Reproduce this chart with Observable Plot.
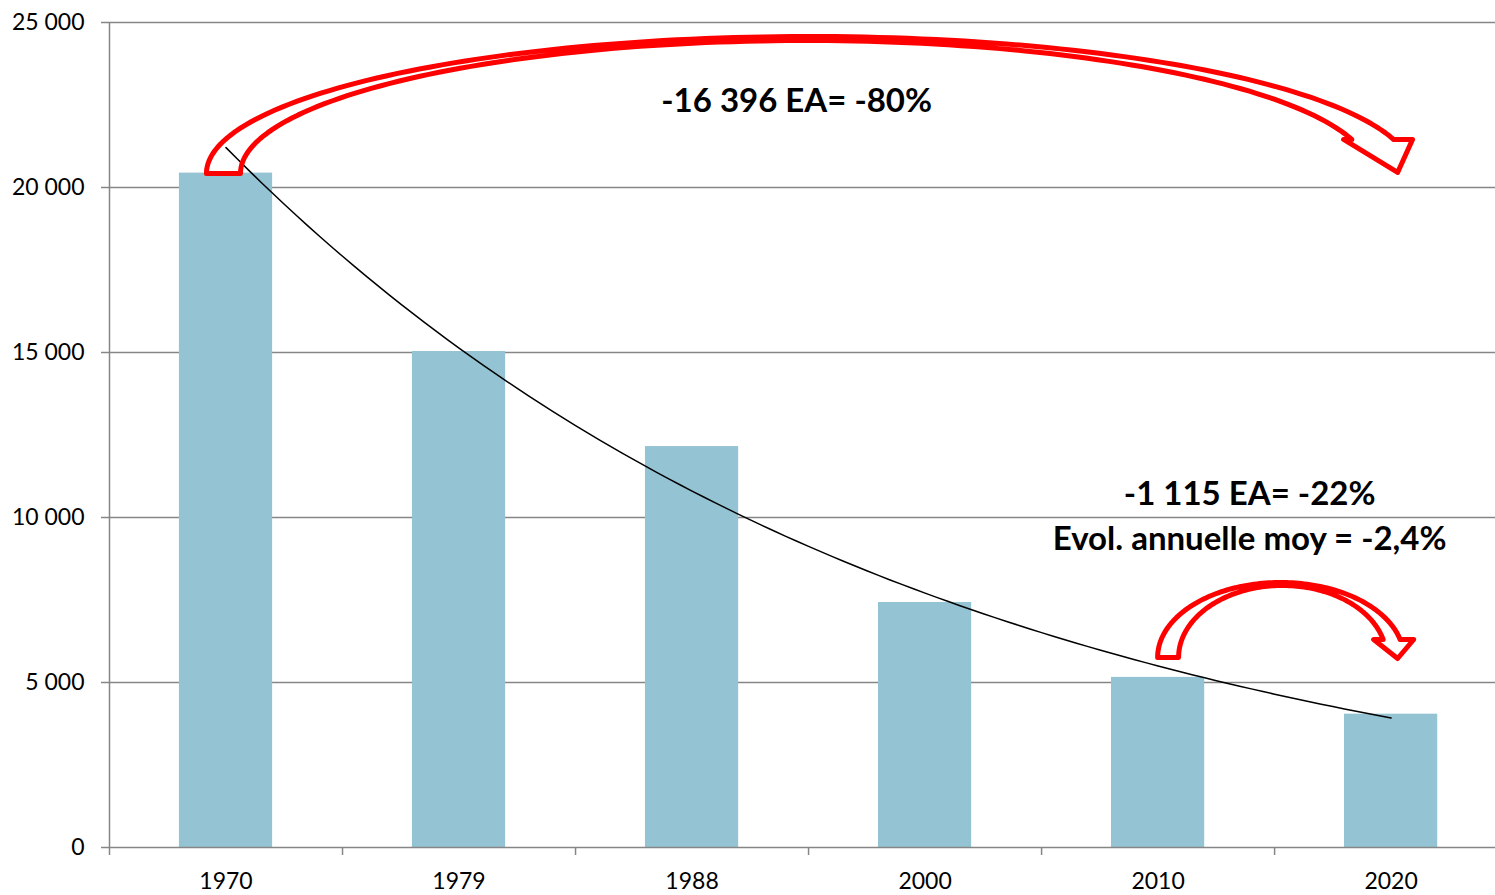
<!DOCTYPE html>
<html><head><meta charset="utf-8">
<script src="https://cdn.jsdelivr.net/npm/d3@7"></script>
<script src="https://cdn.jsdelivr.net/npm/@observablehq/plot@0.6"></script>
<style>html,body{margin:0;padding:0;background:#fff}svg{display:block}</style>
</head><body><div id="chart"></div>
<script>
// ---- data ----
const years = ["1970", "1979", "1988", "2000", "2010", "2020"];
const values = [20436, 15030, 12150, 7425, 5155, 4040];
const yTicks = [0, 5000, 10000, 15000, 20000, 25000];
const annotationLabels = ["-16 396 EA= -80%", "-1 115 EA= -22%", "Evol. annuelle moy = -2,4%"];

// ---- annotation geometry (data units: x = category index, y = value) ----
const annotationPos = [
  {x: 2.449, y: 22606},
  {x: 4.393, y: 10697},
  {x: 4.393, y: 9333}
];
const arrowBig = {base: 20424, cxO: 2.504, rxO: 2.588, ryO: 4152, cxI: 2.487, rxI: 2.425, ryI: 4030,
  headY: 21455, headLeft: 4.796, headRight: 5.092, tipX: 5.028, tipY: 20455};
const arrowSmall = {base: 5758, cxO: 4.526, rxO: 0.528, ryO: 2273, cxI: 4.534, rxI: 0.446, ryI: 2182,
  headY: 6303, headLeft: 4.925, headRight: 5.097, tipX: 5.028, tipY: 5727};

function arrowOutline(a, n = 120) {
  const pts = [];
  const tO = Math.asin((a.headY - a.base) / a.ryO);
  for (let k = 0; k <= n; k++) {
    const t = Math.PI - (Math.PI - tO) * k / n;
    pts.push({x: a.cxO + a.rxO * Math.cos(t), y: a.base + a.ryO * Math.sin(t)});
  }
  pts.push({x: a.headRight, y: a.headY});
  pts.push({x: a.tipX, y: a.tipY});
  pts.push({x: a.headLeft, y: a.headY});
  const tI = Math.asin((a.headY - a.base) / a.ryI);
  for (let k = 0; k <= n; k++) {
    const t = tI + (Math.PI - tI) * k / n;
    pts.push({x: a.cxI + a.rxI * Math.cos(t), y: a.base + a.ryI * Math.sin(t)});
  }
  pts.push(pts[0]);
  return pts;
}

const rows = years.map((year, i) => ({i, year, value: values[i]}));

// exponential trend (least squares on log values, as Excel does)
const idx = d3.range(values.length);
const lnV = values.map(Math.log);
const mx = d3.mean(idx), my = d3.mean(lnV);
const slope = d3.sum(idx, i => (i - mx) * (lnV[i] - my)) / d3.sum(idx, i => (i - mx) ** 2);
const amp = Math.exp(my - slope * mx);
const trend = d3.range(0, values.length - 1 + 1e-9, 0.05).map(t => ({x: t, y: amp * Math.exp(slope * t)}));

const fmt = v => d3.format(",")(v).replace(/,/g, " ");
const boundaries = d3.range(values.length).map(i => i - 0.5);
const font = "Lato, 'Open Sans', sans-serif";
const gray = "#868686";

const chart = Plot.plot({
  width: 1495, height: 895,
  marginLeft: 109, marginRight: 0, marginTop: 22, marginBottom: 48,
  style: {fontFamily: font, fontSize: "23px", color: "#000", background: "#fff"},
  x: {type: "linear", domain: [-0.5, 5.448]},
  y: {domain: [0, 25000]},
  marks: [
    Plot.gridY(yTicks.slice(1), {stroke: gray, strokeOpacity: 1, strokeWidth: 1.5}),
    Plot.rectY(rows, {x1: d => d.i - 0.2, x2: d => d.i + 0.2, y: "value", fill: "#94C3D4"}),
    Plot.ruleY([0], {stroke: gray, strokeWidth: 1.5}),
    Plot.ruleX([-0.5], {y1: 0, y2: 25000, stroke: gray, strokeWidth: 1.5}),
    Plot.axisY(yTicks, {tickSize: 8, tickPadding: 17, tickFormat: fmt, stroke: gray, strokeWidth: 1.5, fill: "#000", fontSize: 23, label: null}),
    Plot.axisX(boundaries, {tickSize: 8, tickFormat: () => "", stroke: gray, strokeWidth: 1.5, label: null}),
    Plot.axisX(idx, {tickSize: 0, tickPadding: 25, tickFormat: i => years[i], fill: "#000", fontSize: 23, label: null}),
    Plot.line(trend, {x: "x", y: "y", stroke: "#000", strokeWidth: 1.5}),
    Plot.line(arrowOutline(arrowBig), {x: "x", y: "y", stroke: "#FF0000", strokeWidth: 5, strokeLinejoin: "round", curve: "linear"}),
    Plot.line(arrowOutline(arrowSmall), {x: "x", y: "y", stroke: "#FF0000", strokeWidth: 5, strokeLinejoin: "round", curve: "linear"}),
    Plot.text(annotationLabels, {x: (d, i) => annotationPos[i].x, y: (d, i) => annotationPos[i].y, text: d => d,
      fontWeight: "bold", fontSize: 33, fill: "#000", textAnchor: "middle", lineAnchor: "middle", fontFamily: font})
  ]
});
document.getElementById("chart").appendChild(chart);
</script>
</body></html>
